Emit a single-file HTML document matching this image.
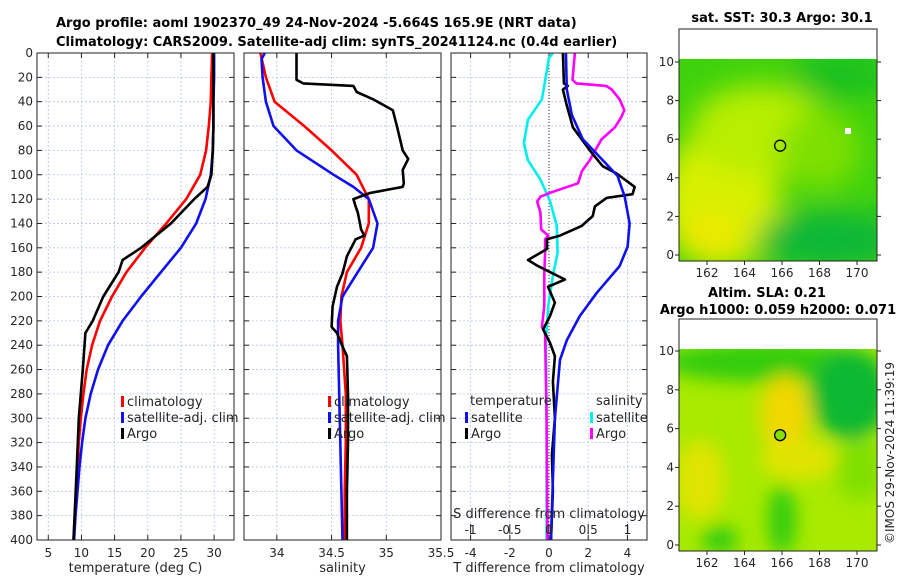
<!DOCTYPE html>
<html><head><meta charset="utf-8"><style>
body{margin:0;background:#fff;}
svg{display:block;font-family:"DejaVu Sans","Liberation Sans",sans-serif;}
.t{font-size:12px;fill:#262626;}
.b{font-weight:bold;font-size:13px;fill:#000;}
</style></head><body>
<svg id="fig" width="900" height="580" viewBox="0 0 900 580">
<defs>
<clipPath id="c1"><rect x="679" y="59" width="198" height="202"/></clipPath>
<clipPath id="c2"><rect x="679" y="349" width="198" height="202"/></clipPath>
<filter id="bl" x="-50%" y="-50%" width="200%" height="200%"><feGaussianBlur stdDeviation="14"/></filter>
<filter id="bl2" x="-50%" y="-50%" width="200%" height="200%"><feGaussianBlur stdDeviation="9"/></filter>
</defs>
<text class="b" x="56" y="27">Argo profile: aoml 1902370_49 24-Nov-2024 -5.664S 165.9E (NRT data)</text>
<text class="b" x="56" y="46">Climatology: CARS2009. Satellite-adj clim: synTS_20241124.nc (0.4d earlier)</text>
<g id="plots"></g>
<g id="maps">
 <g clip-path="url(#c1)">
  <rect x="679" y="59" width="198" height="202" fill="#3fd20c"/>
  <g filter="url(#bl)">
   <ellipse cx="720" cy="200" rx="60" ry="70" fill="#d8f000"/>
   <ellipse cx="760" cy="130" rx="70" ry="45" fill="#b8ee00"/>
   <ellipse cx="820" cy="150" rx="40" ry="40" fill="#7ee000"/>
   <ellipse cx="710" cy="235" rx="30" ry="20" fill="#f0e800"/>
   <ellipse cx="830" cy="240" rx="75" ry="30" fill="#10b838"/>
   <ellipse cx="840" cy="75" rx="50" ry="22" fill="#14c020"/>
  </g>
  <rect x="845" y="128" width="6" height="6" fill="#fff"/>
 </g>
 <g clip-path="url(#c2)">
  <rect x="679" y="349" width="198" height="202" fill="#a8ea00"/>
  <g filter="url(#bl2)">
   <ellipse cx="770" cy="362" rx="110" ry="20" fill="#30cc10"/>
   <ellipse cx="850" cy="395" rx="40" ry="45" fill="#10b830"/>
   <ellipse cx="785" cy="415" rx="25" ry="40" fill="#f0d800"/>
   <ellipse cx="800" cy="460" rx="40" ry="20" fill="#e0e400"/>
   <ellipse cx="700" cy="480" rx="25" ry="40" fill="#e0e400"/>
   <ellipse cx="782" cy="520" rx="14" ry="35" fill="#30cc10"/>
   <ellipse cx="720" cy="540" rx="18" ry="14" fill="#30cc10"/>
   <ellipse cx="860" cy="470" rx="25" ry="30" fill="#80e000"/>
  </g>
 </g>
</g>
<text class="b" x="782" y="22" text-anchor="middle">sat. SST: 30.3 Argo: 30.1</text>
<text class="b" x="767" y="297" text-anchor="middle">Altim. SLA: 0.21</text>
<text class="b" x="778" y="314" text-anchor="middle">Argo h1000: 0.059 h2000: 0.071</text>
<text class="t" transform="translate(894,544) rotate(-90)">©IMOS 29-Nov-2024 11:39:19</text>
</svg>
<script>
// ---- depth axis ----
const depthTicks=[0,20,40,60,80,100,120,140,160,180,200,220,240,260,280,300,320,340,360,380,400];
// ---- panel 1: temperature ----
const climTDepth=[0,20,40,60,80,100,120,140,160,180,200,220,240,260,280,300,320,340,360,380,400];
const climT=[29.7,29.6,29.5,29.2,28.8,27.9,25.8,22.8,19.6,16.8,14.6,12.8,11.6,10.8,10.3,9.9,9.6,9.4,9.2,9.0,8.8];
const satT=[30.0,30.0,29.9,29.9,29.8,29.5,28.7,27.3,25.0,22.0,19.0,16.2,14.0,12.5,11.4,10.6,10.1,9.7,9.4,9.1,8.9];
const argoTDepth=[0,20,40,60,80,100,110,120,140,160,170,180,200,220,230,260,300,340,400];
const argoT=[29.9,29.9,29.9,29.9,29.8,29.6,29.0,27.0,23.5,19.0,16.2,15.6,13.3,11.7,10.6,10.2,9.6,9.3,8.8];
const tempTicks=[5,10,15,20,25,30];
// ---- panel 2: salinity ----
const climSDepth=[0,20,40,60,80,100,120,140,160,180,200,220,240,280,320,360,400];
const climS=[33.85,33.9,33.98,34.25,34.5,34.73,34.84,34.84,34.77,34.64,34.59,34.58,34.6,34.63,34.63,34.62,34.62];
const satSDepth=[0,5,20,40,60,80,100,110,120,140,160,180,200,220,240,280,320,360,400];
const satS=[33.89,33.86,33.87,33.9,33.97,34.18,34.52,34.7,34.84,34.92,34.88,34.74,34.6,34.56,34.56,34.57,34.58,34.59,34.6];
const argoSDepth=[0,22,25,27,32,38,47,61,80,87,96,107,110,115,120,126,131,145,150,153,167,181,192,208,225,230,241,249,280,320,360,400];
const argoS=[34.18,34.18,34.24,34.7,34.73,34.88,35.06,35.1,35.15,35.2,35.15,35.16,35.15,34.85,34.7,34.72,34.74,34.77,34.8,34.72,34.64,34.6,34.55,34.51,34.5,34.55,34.6,34.64,34.65,34.65,34.64,34.64];
const salTicks=[34,34.5,35,35.5];
// ---- panel 3: differences ----
const dTsatDepth=[0,30,51,71,88,101,118,140,159,175,197,216,236,252,300,350,400];
const dTsat=[0.86,0.91,1.17,1.73,2.74,3.5,3.86,4.11,4.01,3.6,2.44,1.57,0.91,0.56,0.3,0.2,0.1];
const dTargoDepth=[0,25,27,30,43,61,80,93,99,110,116,119,126,134,142,150,153,161,170,175,186,192,205,216,227,238,249,270,300,330,360,400];
const dTargo=[0.71,0.76,0.96,0.71,0.91,1.22,2.08,2.74,3.45,4.37,4.26,2.94,2.34,2.23,1.67,0.56,-0.1,-0.1,-1.07,-0.56,0.81,-0.05,0.3,0.05,-0.3,0.05,0.3,0.2,0.3,0.15,0.2,0.1];
const dSsatDepth=[0,4,38,55,74,88,104,121,142,164,183,208,236,300,400];
const dSsat=[0.05,0,-0.09,-0.27,-0.32,-0.27,-0.11,0.01,0.1,0.11,0.05,-0.01,-0.04,-0.03,-0.03];
const dSargoDepth=[0,22,25,27,30,38,47,53,61,71,88,97,107,114,118,122,131,145,150,153,164,181,208,225,230,300,400];
const dSargo=[0.33,0.3,0.35,0.73,0.8,0.9,0.96,0.92,0.84,0.67,0.52,0.42,0.37,0.05,-0.11,-0.15,-0.11,-0.1,-0.01,-0.05,-0.05,-0.06,-0.06,-0.09,-0.05,-0.03,-0.02];
const dTTicks=[-4,-2,0,2,4];
const dSTicks=[-1,-0.5,0,0.5,1];
// ---- maps ----
const lonTicks=[162,164,166,168,170];
const latTicks=[0,2,4,6,8,10];
const argoLon=165.9, argoLat=5.664;

const NS='http://www.w3.org/2000/svg';
const Y0=53,Y1=540;
function yD(d){return Y0+(d/400)*(Y1-Y0);}
function mk(tag,attrs,parent,text){const e=document.createElementNS(NS,tag);for(const k in attrs)e.setAttribute(k,attrs[k]);if(text!==undefined)e.textContent=text;parent.appendChild(e);return e;}
const plots=document.getElementById('plots');
const panels=[
 {x0:37,x1:234,lo:3.3,hi:33,ticks:tempTicks,name:'temperature-panel',label:'temperature (deg C)'},
 {x0:244,x1:441,lo:33.7,hi:35.5,ticks:salTicks,name:'salinity-panel',label:'salinity'},
 {x0:451,x1:647,lo:-5,hi:5,ticks:dTTicks,name:'difference-panel',label:'T difference from climatology'}
];
function xs(p,v){return p.x0+(v-p.lo)/(p.hi-p.lo)*(p.x1-p.x0);}
function line(p,depths,vals,color,name,scale){
 const pts=depths.map((d,i)=>xs(p,vals[i]*(scale||1)).toFixed(1)+','+yD(d).toFixed(1)).join(' ');
 const e=mk('polyline',{points:pts,fill:'none',stroke:color,'stroke-width':2.6,'stroke-linejoin':'round'},plots);
 
 
}
panels.forEach((p,pi)=>{
 const g=mk('g',{},plots);
 
 
 mk('rect',{x:p.x0,y:Y0,width:p.x1-p.x0,height:Y1-Y0,fill:'#fff'},g);
 depthTicks.forEach(d=>{
  mk('line',{x1:p.x0,x2:p.x1,y1:yD(d),y2:yD(d),stroke:'#b8c4e8','stroke-width':0.8,'stroke-dasharray':'2,2'},g);
  mk('line',{x1:p.x0,x2:p.x0+5,y1:yD(d),y2:yD(d),stroke:'#222'},g);
  mk('line',{x1:p.x1-5,x2:p.x1,y1:yD(d),y2:yD(d),stroke:'#222'},g);
  if(pi===0){const t=mk('text',{x:p.x0-4,y:yD(d)+4,'text-anchor':'end',class:'t'},g,String(d));}
 });
 p.ticks.forEach(v=>{
  const x=xs(p,v);
  mk('line',{x1:x,x2:x,y1:Y0,y2:Y1,stroke:'#b8c4e8','stroke-width':0.8,'stroke-dasharray':'2,2'},g);
  mk('line',{x1:x,x2:x,y1:Y1,y2:Y1-5,stroke:'#222'},g);
  mk('line',{x1:x,x2:x,y1:Y0,y2:Y0+5,stroke:'#222'},g);
  const t=mk('text',{x:x,y:557,'text-anchor':'middle',class:'t'},g,String(v));
  
  
 });
 const lb=mk('text',{x:(p.x0+p.x1)/2,y:572,'text-anchor':'middle',class:'t',style:'font-size:13px'},g,p.label);
 
 
});
const P1=panels[0],P2=panels[1],P3=panels[2];
line(P1,climTDepth,climT,'#ff0000','climatology-temp-line');
line(P1,climTDepth,satT,'#1010ee','satellite-temp-line');
line(P1,argoTDepth,argoT,'#000','argo-temp-line');
line(P2,climSDepth,climS,'#ff0000','climatology-sal-line');
line(P2,satSDepth,satS,'#1010ee','satellite-sal-line');
line(P2,argoSDepth,argoS,'#000','argo-sal-line');
const zl=mk('line',{x1:xs(P3,0),x2:xs(P3,0),y1:Y0,y2:Y1,stroke:'#333','stroke-width':1,'stroke-dasharray':'1,2'},plots);


line(P3,dSsatDepth,dSsat,'#00eeee','sal-diff-satellite-line',4);
line(P3,dSargoDepth,dSargo,'#ff00ff','sal-diff-argo-line',4);
line(P3,dTargoDepth,dTargo,'#000','temp-diff-argo-line');
line(P3,dTsatDepth,dTsat,'#1010ee','temp-diff-satellite-line');
panels.forEach(p=>{mk('rect',{x:p.x0,y:Y0,width:p.x1-p.x0,height:Y1-Y0,fill:'none',stroke:'#222','stroke-width':1},plots);});
// S axis inside panel 3
const sl=mk('text',{x:549,y:518,'text-anchor':'middle',class:'t',style:'font-size:13px'},plots,'S difference from climatology');


dSTicks.forEach(v=>{const x=xs(P3,v*4);
 const t=mk('text',{x:x,y:534,'text-anchor':'middle',class:'t'},plots,String(v));
 
 
 mk('line',{x1:x,x2:x,y1:524,y2:534,stroke:'#222'},plots);
});
function leg(x,y,color,label,name){
 mk('rect',{x:x,y:y-9,width:3,height:11,fill:color},plots);
 const t=mk('text',{x:x+6,y:y+1,class:'t',style:'font-size:13px'},plots,label);
 
 
}
leg(121,405,'#ff0000','climatology','legend-climatology');
leg(121,421,'#1010ee','satellite-adj. clim','legend-satellite');
leg(121,437,'#000','Argo','legend-argo');
leg(328,405,'#ff0000','climatology','legend-climatology-sal');
leg(328,421,'#1010ee','satellite-adj. clim','legend-satellite-sal');
leg(328,437,'#000','Argo','legend-argo-sal');
mk('text',{x:470,y:405,class:'t',style:'font-size:13px'},plots,'temperature');
mk('text',{x:596,y:405,class:'t',style:'font-size:13px'},plots,'salinity');
leg(465,421,'#1010ee','satellite','legend-temp-satellite');
leg(465,437,'#000','Argo','legend-temp-argo');
leg(590,421,'#00eeee','satellite','legend-sal-satellite');
leg(590,437,'#ff00ff','Argo','legend-sal-argo');
const maps=[{y0:29,y1:261,lat10:62,lat0:255,name:'sst-map-axes'},{y0:319,y1:551,lat10:351,lat0:545,name:'sla-map-axes'}];
const MX0=679,MX1=877;
function lx(l){return 707+(l-162)*18.75;}
maps.forEach((m,mi)=>{
 const g=document.getElementById('fig');
 const ly=l=>m.lat0+(m.lat10-m.lat0)*l/10;
 const f=mk('rect',{x:MX0,y:m.y0,width:MX1-MX0,height:m.y1-m.y0,fill:'none',stroke:'#222'},g);
 
 
 latTicks.forEach(l=>{const y=ly(l);
  mk('line',{x1:MX0,x2:MX0-4,y1:y,y2:y,stroke:'#222'},g);
  mk('line',{x1:MX1,x2:MX1+4,y1:y,y2:y,stroke:'#222'},g);
  const t=mk('text',{x:MX0-5,y:y+4,'text-anchor':'end',class:'t'},g,String(l));
  
  
 });
 lonTicks.forEach(l=>{const x=lx(l);
  mk('line',{x1:x,x2:x,y1:m.y1,y2:m.y1+4,stroke:'#222'},g);
  const t=mk('text',{x:x,y:m.y1+16,'text-anchor':'middle',class:'t'},g,String(l));
  
  
 });
 const c=mk('circle',{cx:lx(argoLon),cy:ly(argoLat),r:5.5,fill:mi?'#88e000':'none',stroke:'#000','stroke-width':1.3},g);
 
 
});
</script>
</body></html>
